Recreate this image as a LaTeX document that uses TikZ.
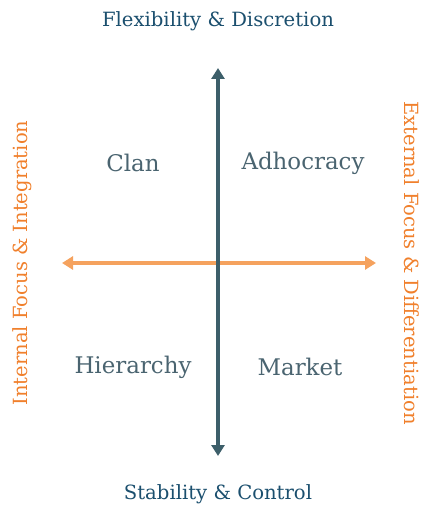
\documentclass[tikz,border=0pt]{standalone}
\usepackage{fontspec}
\setmainfont{DejaVu Serif}
\usetikzlibrary{arrows.meta}
\definecolor{axisblue}{HTML}{1B4F6E}
\definecolor{axisslate}{HTML}{3D5F6A}
\definecolor{axisorange}{HTML}{F5A25E}
\definecolor{sideorange}{HTML}{F0802C}
\definecolor{quadgray}{HTML}{4A6470}
\tikzset{
	vlabel/.style={text=axisblue, font=\fontsize{19.7}{22}\selectfont},
	hlabel/.style={text=sideorange, font=\fontsize{19.6}{22}\selectfont},
	quad/.style={text=quadgray, font=\fontsize{23}{26}\selectfont},
	axis/.style={line width=3.8bp, -{Triangle[width=13bp,length=11bp]}},
}

\begin{document}
\begin{tikzpicture}[x=1bp, y=-1bp]
		%%%%% START %%%%%
		\useasboundingbox (0, 0) rectangle (420, 506);
		
		\node[vlabel] (flex) at (218, 21) {Flexibility \& Discretion};
		\node[vlabel] (stab) at (218, 494) {Stability \& Control};
		
		\node[hlabel, rotate=90] (internal) at (22, 263) {Internal Focus \& Integration};
		\node[hlabel, rotate=-90] (external) at (412, 263) {External Focus \& Differentiation};
		
		\coordinate (top) at (218, 68);
		\coordinate (bottom) at (218, 456);
		\coordinate (left) at (62, 263);
		\coordinate (right) at (376, 263);
		\coordinate (origin) at (218, 263);
		
		\draw[axis, color=axisorange] (origin) -- (left);
		\draw[axis, color=axisorange] (origin) -- (right);
		\draw[axis, color=axisslate] (origin) -- (top);
		\draw[axis, color=axisslate] (origin) -- (bottom);
		
		\node[quad] (clan) at (133, 163) {Clan};
		\node[quad] (adhoc) at (303, 163) {Adhocracy};
		\node[quad] (hier) at (133, 367) {Hierarchy};
		\node[quad] (market) at (300, 367) {Market};
		
		%%%%% END %%%%%
	\end{tikzpicture}
\end{document}
